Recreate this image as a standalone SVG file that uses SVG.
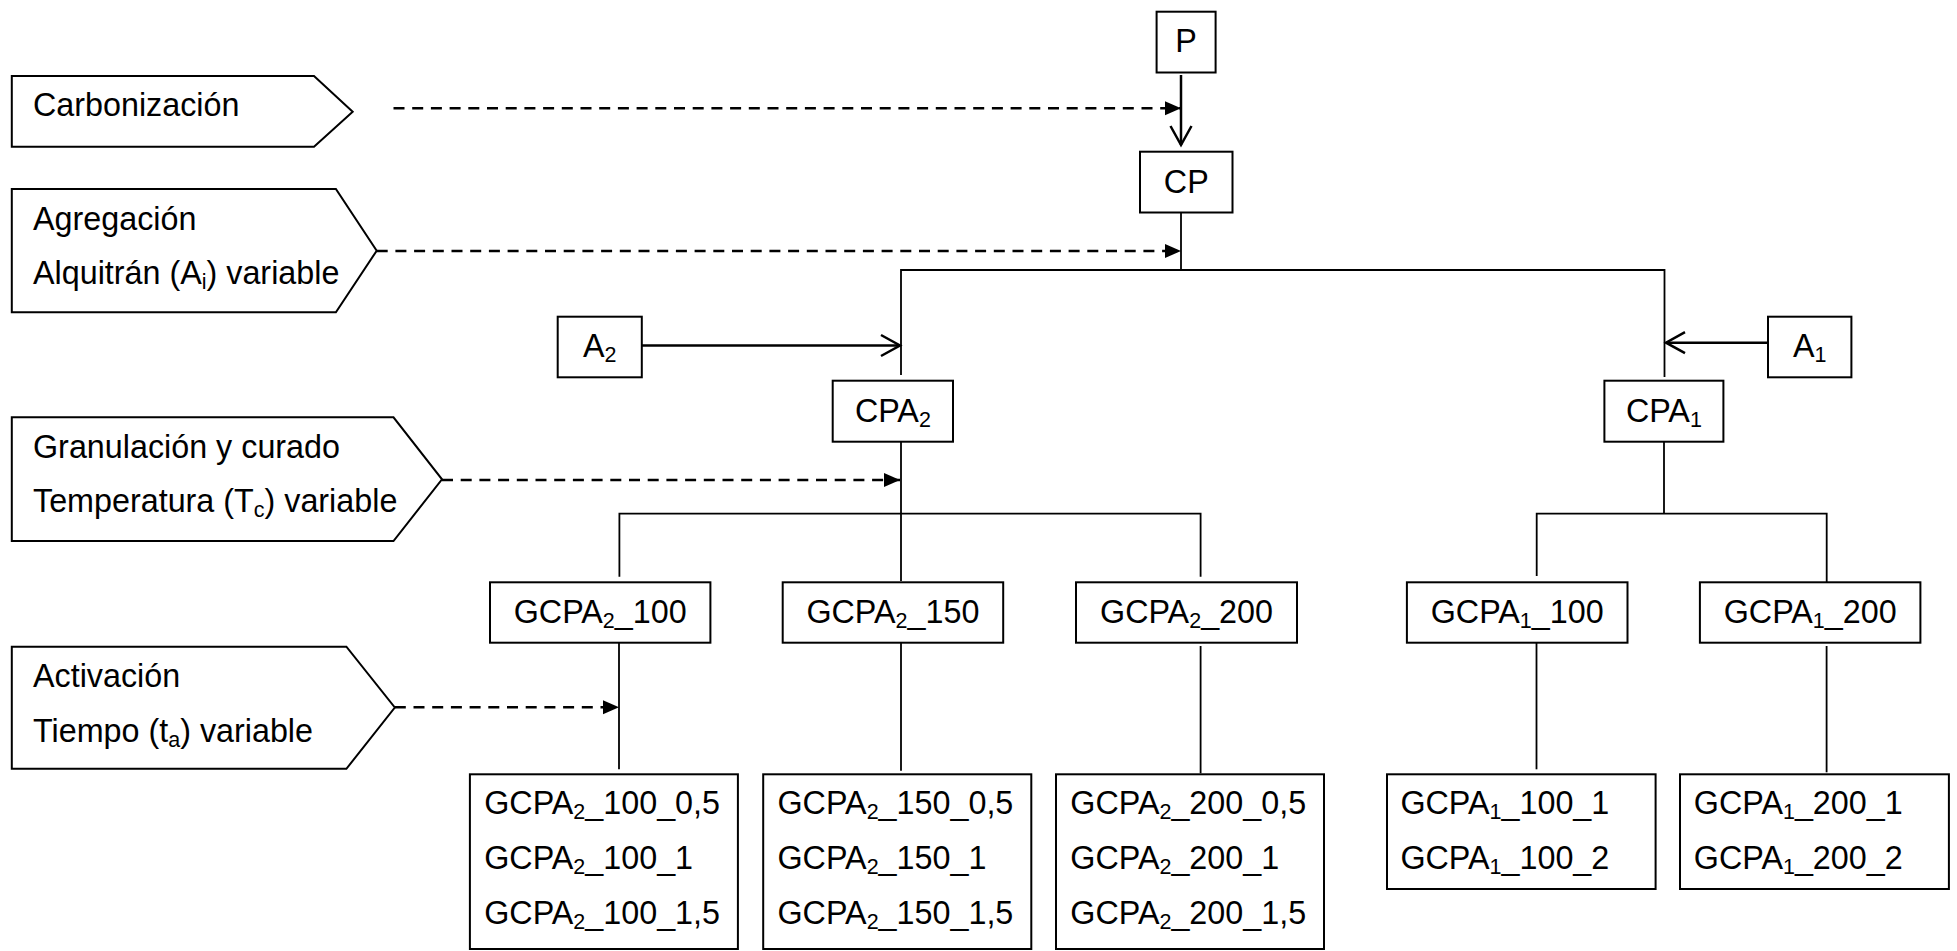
<svg xmlns="http://www.w3.org/2000/svg" width="1957" height="951" viewBox="0 0 1957 951">
<style>
  text { font-family: "Liberation Sans", Arial, sans-serif; font-size: 32.3px; fill: #000; }
  .c { text-anchor: middle; }
  .box { fill: #fff; stroke: #000; stroke-width: 2; }
  .ln { fill: none; stroke: #000; stroke-width: 1.8; }
  .arr { fill: none; stroke: #000; stroke-width: 2.5; }
  .dash { fill: none; stroke: #000; stroke-width: 2.6; stroke-dasharray: 11 7.7; }
  .sub { font-size: 21.5px; }
</style>
<defs>
  <marker id="tri" markerUnits="userSpaceOnUse" markerWidth="18" markerHeight="16" refX="16" refY="7" orient="auto">
    <path d="M0,0 L16,7 L0,14 Z" fill="#000"/>
  </marker>
  <marker id="open" markerUnits="userSpaceOnUse" markerWidth="26" markerHeight="26" refX="21" refY="12" orient="auto" overflow="visible">
    <path d="M2,1.5 L21,12 L2,22.5" fill="none" stroke="#000" stroke-width="2.5"/>
  </marker>
</defs>

<g id="connectors">
  <line class="arr" x1="1181" y1="75" x2="1181" y2="145" marker-end="url(#open)"/>
  <polyline class="ln" points="1181,212.5 1181,270"/>
  <polyline class="ln" points="901,375 901,270 1664.5,270 1664.5,377"/>
  <line class="arr" x1="641.8" y1="345.5" x2="900" y2="345.5" marker-end="url(#open)"/>
  <line class="arr" x1="1768" y1="342.7" x2="1666" y2="342.7" marker-end="url(#open)"/>
  <polyline class="ln" points="901,441.7 901,581"/>
  <polyline class="ln" points="619.4,576.7 619.4,513.7 1200.6,513.7 1200.6,576.7"/>
  <polyline class="ln" points="1664,441.7 1664,513.7"/>
  <polyline class="ln" points="1536.7,576 1536.7,513.7 1826.7,513.7 1826.7,582"/>
  <line class="ln" x1="619" y1="642.7" x2="619" y2="769.3"/>
  <line class="ln" x1="901" y1="642.7" x2="901" y2="770.7"/>
  <line class="ln" x1="1200.6" y1="646" x2="1200.6" y2="773.3"/>
  <line class="ln" x1="1536.5" y1="642.7" x2="1536.5" y2="769.3"/>
  <line class="ln" x1="1826.6" y1="646" x2="1826.6" y2="772.3"/>
  <line class="dash" x1="393.5" y1="108.3" x2="1181" y2="108.3" marker-end="url(#tri)"/>
  <line class="dash" x1="376.7" y1="251" x2="1181" y2="251" marker-end="url(#tri)"/>
  <line class="dash" x1="442" y1="480" x2="900" y2="480" marker-end="url(#tri)"/>
  <line class="dash" x1="394.8" y1="707.3" x2="619" y2="707.3" marker-end="url(#tri)"/>
</g>

<g id="stage-carbonizacion">
  <path class="box" d="M11.8,76 L314,76 L352.7,111.7 L314,146.7 L11.8,146.7 Z"/>
  <text x="33" y="116">Carbonización</text>
</g>
<g id="stage-agregacion">
  <path class="box" d="M11.8,189 L335.9,189 L376.7,250.7 L335.9,312.3 L11.8,312.3 Z"/>
  <text x="33" y="229.5">Agregación</text>
  <text x="33" y="283.5">Alquitrán (A<tspan class="sub" dy="5">i</tspan><tspan dy="-5">) variable</tspan></text>
</g>
<g id="stage-granulacion">
  <path class="box" d="M11.8,417.3 L393.5,417.3 L442,479.3 L393.5,541 L11.8,541 Z"/>
  <text x="33" y="457.5">Granulación y curado</text>
  <text x="33" y="511.7">Temperatura (T<tspan class="sub" dy="5">c</tspan><tspan dy="-5">) variable</tspan></text>
</g>
<g id="stage-activacion">
  <path class="box" d="M11.8,646.7 L346.4,646.7 L394.8,707.5 L346.4,768.8 L11.8,768.8 Z"/>
  <text x="33" y="686.7">Activación</text>
  <text x="33" y="741.7">Tiempo (t<tspan class="sub" dy="5">a</tspan><tspan dy="-5">) variable</tspan></text>
</g>

<g id="node-P">
  <rect class="box" x="1156.6" y="11.7" width="59" height="60.8"/>
  <text class="c" x="1186.1" y="51.7">P</text>
</g>
<g id="node-CP">
  <rect class="box" x="1140" y="151.7" width="92.5" height="60.8"/>
  <text class="c" x="1186.3" y="192.7">CP</text>
</g>
<g id="node-A2">
  <rect class="box" x="557.7" y="316.7" width="84.1" height="60.6"/>
  <text class="c" x="599.7" y="356.5">A<tspan class="sub" dy="5">2</tspan></text>
</g>
<g id="node-A1">
  <rect class="box" x="1768" y="316.7" width="83.4" height="60.6"/>
  <text class="c" x="1809.7" y="357">A<tspan class="sub" dy="5">1</tspan></text>
</g>
<g id="node-CPA2">
  <rect class="box" x="832.7" y="380.7" width="120.3" height="61"/>
  <text class="c" x="892.9" y="421.7">CPA<tspan class="sub" dy="5">2</tspan></text>
</g>
<g id="node-CPA1">
  <rect class="box" x="1604.4" y="380.7" width="119" height="61"/>
  <text class="c" x="1663.9" y="421.7">CPA<tspan class="sub" dy="5">1</tspan></text>
</g>

<g id="node-GCPA2_100">
  <rect class="box" x="490" y="582.3" width="220.4" height="60.4"/>
  <text class="c" x="600.2" y="623.3">GCPA<tspan class="sub" dy="5">2</tspan><tspan dy="-5">_100</tspan></text>
</g>
<g id="node-GCPA2_150">
  <rect class="box" x="782.7" y="582.3" width="220.5" height="60.4"/>
  <text class="c" x="892.9" y="623.3">GCPA<tspan class="sub" dy="5">2</tspan><tspan dy="-5">_150</tspan></text>
</g>
<g id="node-GCPA2_200">
  <rect class="box" x="1076" y="582.3" width="221" height="60.4"/>
  <text class="c" x="1186.5" y="623.3">GCPA<tspan class="sub" dy="5">2</tspan><tspan dy="-5">_200</tspan></text>
</g>
<g id="node-GCPA1_100">
  <rect class="box" x="1406.9" y="582.3" width="220.6" height="60.4"/>
  <text class="c" x="1517.2" y="623.3">GCPA<tspan class="sub" dy="5">1</tspan><tspan dy="-5">_100</tspan></text>
</g>
<g id="node-GCPA1_200">
  <rect class="box" x="1699.9" y="582.3" width="220.5" height="60.4"/>
  <text class="c" x="1810.2" y="623.3">GCPA<tspan class="sub" dy="5">1</tspan><tspan dy="-5">_200</tspan></text>
</g>

<g id="node-GCPA2_100_t">
  <rect class="box" x="469.9" y="774.3" width="268" height="174.7"/>
  <text x="484.2" y="814">GCPA<tspan class="sub" dy="5">2</tspan><tspan dy="-5">_100_0,5</tspan></text>
  <text x="484.2" y="869.3">GCPA<tspan class="sub" dy="5">2</tspan><tspan dy="-5">_100_1</tspan></text>
  <text x="484.2" y="924.3">GCPA<tspan class="sub" dy="5">2</tspan><tspan dy="-5">_100_1,5</tspan></text>
</g>
<g id="node-GCPA2_150_t">
  <rect class="box" x="763.2" y="774.3" width="268.1" height="174.7"/>
  <text x="777.5" y="814">GCPA<tspan class="sub" dy="5">2</tspan><tspan dy="-5">_150_0,5</tspan></text>
  <text x="777.5" y="869.3">GCPA<tspan class="sub" dy="5">2</tspan><tspan dy="-5">_150_1</tspan></text>
  <text x="777.5" y="924.3">GCPA<tspan class="sub" dy="5">2</tspan><tspan dy="-5">_150_1,5</tspan></text>
</g>
<g id="node-GCPA2_200_t">
  <rect class="box" x="1056" y="774.3" width="268" height="174.7"/>
  <text x="1070.3" y="814">GCPA<tspan class="sub" dy="5">2</tspan><tspan dy="-5">_200_0,5</tspan></text>
  <text x="1070.3" y="869.3">GCPA<tspan class="sub" dy="5">2</tspan><tspan dy="-5">_200_1</tspan></text>
  <text x="1070.3" y="924.3">GCPA<tspan class="sub" dy="5">2</tspan><tspan dy="-5">_200_1,5</tspan></text>
</g>
<g id="node-GCPA1_100_t">
  <rect class="box" x="1387" y="774.3" width="268.6" height="114.7"/>
  <text x="1400.4" y="814">GCPA<tspan class="sub" dy="5">1</tspan><tspan dy="-5">_100_1</tspan></text>
  <text x="1400.4" y="869.3">GCPA<tspan class="sub" dy="5">1</tspan><tspan dy="-5">_100_2</tspan></text>
</g>
<g id="node-GCPA1_200_t">
  <rect class="box" x="1680" y="774.3" width="268.9" height="114.7"/>
  <text x="1693.8" y="814">GCPA<tspan class="sub" dy="5">1</tspan><tspan dy="-5">_200_1</tspan></text>
  <text x="1693.8" y="869.3">GCPA<tspan class="sub" dy="5">1</tspan><tspan dy="-5">_200_2</tspan></text>
</g>
</svg>
